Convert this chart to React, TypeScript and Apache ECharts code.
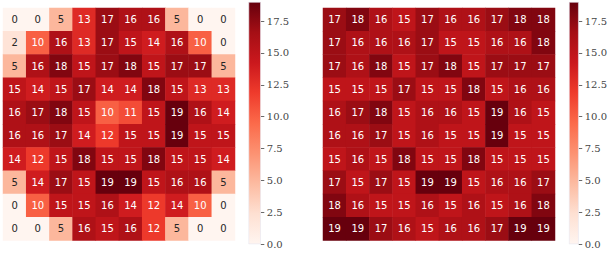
import React, { useEffect, useRef } from "react";
import * as echarts from "echarts";

const leftValues: number[][] = [
  [0, 0, 5, 13, 17, 16, 16, 5, 0, 0],
  [2, 10, 16, 13, 17, 15, 14, 16, 10, 0],
  [5, 16, 18, 15, 17, 18, 15, 17, 17, 5],
  [15, 14, 15, 17, 14, 14, 18, 15, 13, 13],
  [16, 17, 18, 15, 10, 11, 15, 19, 16, 14],
  [16, 16, 17, 14, 12, 15, 15, 19, 15, 15],
  [14, 12, 15, 18, 15, 15, 18, 15, 15, 14],
  [5, 14, 17, 15, 19, 19, 15, 16, 16, 5],
  [0, 10, 15, 15, 16, 14, 12, 14, 10, 0],
  [0, 0, 5, 16, 15, 16, 12, 5, 0, 0],
];

const rightValues: number[][] = [
  [17, 18, 16, 15, 17, 16, 16, 17, 18, 18],
  [17, 16, 16, 16, 17, 15, 15, 16, 16, 18],
  [17, 16, 18, 15, 17, 18, 15, 17, 17, 17],
  [15, 15, 15, 17, 15, 15, 18, 15, 16, 16],
  [16, 17, 18, 15, 16, 16, 15, 19, 16, 15],
  [16, 16, 17, 15, 16, 15, 15, 19, 15, 15],
  [15, 16, 15, 18, 15, 15, 18, 15, 15, 15],
  [17, 15, 17, 15, 19, 19, 15, 16, 16, 17],
  [18, 16, 15, 15, 16, 15, 16, 15, 16, 18],
  [19, 19, 17, 16, 15, 16, 16, 17, 19, 19],
];

const colIndex = ["0", "1", "2", "3", "4", "5", "6", "7", "8", "9"];
const rowIndex = ["0", "1", "2", "3", "4", "5", "6", "7", "8", "9"];
const colorbarTicks = [0, 2.5, 5, 7.5, 10, 12.5, 15, 17.5];
const vMin = 0;
const vMax = 19;

const reds = [
  "#fff5f0",
  "#fee0d2",
  "#fcbba1",
  "#fc9272",
  "#fb6a4a",
  "#ef3b2c",
  "#cb181d",
  "#a50f15",
  "#67000d",
];

function toData(values: number[][]) {
  const out: any[] = [];
  values.forEach((row, r) => {
    row.forEach((v, c) => {
      out.push({
        value: [c, r, v],
        label: { color: v <= 6 ? "#262626" : "#ffffff" },
      });
    });
  });
  return out;
}

export default function App() {
  const ref = useRef<HTMLDivElement>(null);
  useEffect(() => {
    if (!ref.current) return;
    const chart = echarts.init(ref.current, undefined, { renderer: "svg" });

    const heatGrids = [
      { left: 3, top: 8, width: 232, height: 232.5 },
      { left: 323, top: 8, width: 232, height: 232.5 },
    ];
    const barGrids = [
      { left: 248.5, top: 2, width: 12.3, height: 242.2 },
      { left: 569, top: 2, width: 12.5, height: 242.2 },
    ];

    const gradient = new echarts.graphic.LinearGradient(
      0,
      1,
      0,
      0,
      reds.map((c, i) => ({ offset: i / (reds.length - 1), color: c }))
    );

    const xAxes: any[] = [];
    const yAxes: any[] = [];
    const series: any[] = [];
    const visualMaps: any[] = [];

    [leftValues, rightValues].forEach((vals, i) => {
      xAxes.push({
        type: "category",
        data: colIndex,
        gridIndex: i,
        show: false,
      });
      yAxes.push({
        type: "category",
        data: rowIndex,
        gridIndex: i,
        inverse: true,
        show: false,
      });
      series.push({
        type: "heatmap",
        xAxisIndex: i,
        yAxisIndex: i,
        data: toData(vals),
        label: {
          show: true,
          fontFamily: "DejaVu Sans",
          fontSize: 10,
          formatter: (p: any) => String(p.value[2]),
        },
        itemStyle: { borderWidth: 0 },
        emphasis: { disabled: true },
      });
      visualMaps.push({
        type: "continuous",
        show: false,
        min: vMin,
        max: vMax,
        seriesIndex: i,
        dimension: 2,
        inRange: { color: reds },
      });
    });

    [0, 1].forEach((k) => {
      const gi = 2 + k;
      xAxes.push({
        type: "category",
        data: ["cb"],
        gridIndex: gi,
        show: false,
      });
      yAxes.push({
        type: "value",
        gridIndex: gi,
        min: vMin,
        max: vMax,
        position: "right",
        splitLine: { show: false },
        axisLine: { show: false },
        axisTick: {
          show: true,
          length: 3.5,
          lineStyle: { color: "#444", width: 0.8 },
          customValues: colorbarTicks,
        },
        axisLabel: {
          show: true,
          margin: 6,
          fontFamily: "DejaVu Serif",
          fontSize: 10,
          color: "#444",
          customValues: colorbarTicks,
          formatter: (v: number) => v.toFixed(1),
        },
      });
      series.push({
        type: "bar",
        xAxisIndex: gi,
        yAxisIndex: gi,
        data: [vMax],
        barWidth: "100%",
        itemStyle: { color: gradient, borderColor: "#e6e6f0", borderWidth: 0.6 },
        emphasis: { disabled: true },
        silent: true,
      });
    });

    chart.setOption({
      animation: false,
      backgroundColor: "#ffffff",
      grid: [...heatGrids, ...barGrids],
      xAxis: xAxes,
      yAxis: yAxes,
      visualMap: visualMaps,
      series,
    });
    return () => chart.dispose();
  }, []);

  return (
    <div
      ref={ref}
      style={{ position: "absolute", left: 0, top: 0, width: 610, height: 259 }}
    />
  );
}
